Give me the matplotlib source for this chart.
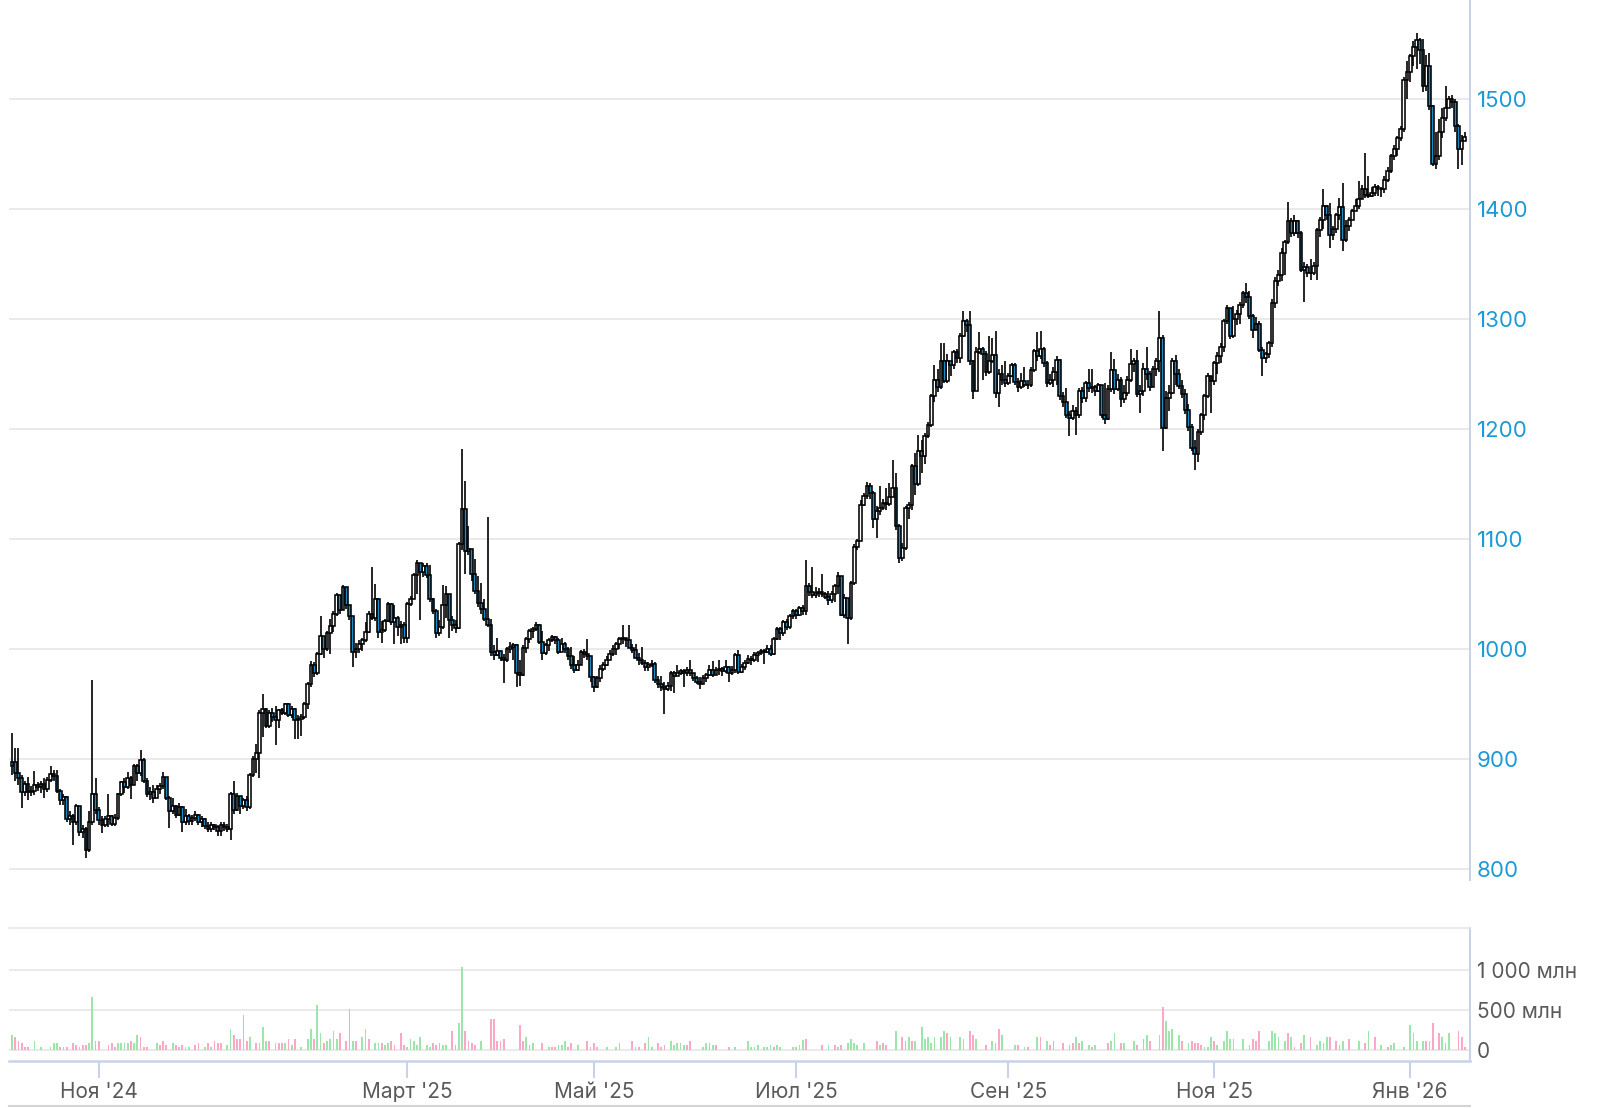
# Daily candles with volume panel
import numpy as np
import matplotlib.pyplot as plt
from matplotlib.lines import Line2D

plt.rcParams['font.family'] = ['Inter', 'DejaVu Sans']

# price data (open of each day = previous close)
first_open = 893
closes = [
    897, 887, 882, 870, 877, 870, 871, 876, 874, 877, 872, 881, 886, 884, 871, 862, 865, 845, 848, 842,
    857, 833, 836, 817, 842, 868, 853, 844, 840, 845, 848, 841, 846, 868, 879, 874, 882, 876, 893, 887,
    899, 880, 868, 870, 864, 872, 875, 883, 864, 852, 857, 849, 856, 842, 848, 843, 846, 849, 842, 845,
    839, 836, 840, 838, 834, 840, 838, 836, 868, 853, 866, 857, 862, 856, 885, 900, 905, 942, 945, 930,
    942, 938, 935, 944, 942, 950, 940, 945, 935,
    936, 938, 950, 968, 985, 978, 995, 1012, 1000, 1014, 1021, 1032, 1049, 1035, 1056, 1040, 1030, 997, 1000, 1004,
    1008, 1015, 1032, 1028, 1045, 1015, 1017, 1025, 1041, 1024, 1028, 1020, 1022, 1010, 1041, 1045, 1067, 1078, 1070, 1075,
    1067, 1045, 1034, 1014, 1020, 1040,
    1050, 1026, 1022, 1019, 1095, 1127, 1089, 1091, 1068, 1053, 1042, 1036, 1027, 1022, 997, 994, 998, 992, 990, 1000,
    1002, 1003, 978, 976, 1001, 1009, 1016, 1018, 1022, 1006, 996, 1003, 1008, 1011, 1008, 997, 1004, 1000, 993, 985,
    981, 985, 997, 995, 993, 974, 965, 973, 982, 985, 990, 995, 1000, 1004, 1009, 1010, 1008, 1001, 999, 992,
    990,
    987, 983, 985, 986, 972, 968, 965, 963, 966, 978, 975, 978, 980, 978, 981, 978, 973, 970, 968, 973,
    976, 981, 976, 981, 982, 980, 983, 978, 981, 994, 979, 983, 987, 991, 990, 994, 996, 998, 997, 1000,
    995, 1009, 1018, 1014, 1024, 1020, 1030, 1034, 1031, 1037, 1034, 1057, 1052, 1049, 1051, 1052, 1050, 1047, 1044, 1050,
    1057, 1066, 1031, 1046, 1028, 1060, 1093, 1098,
    1131, 1139, 1148, 1142, 1118, 1125, 1128, 1133, 1132, 1138, 1146, 1112, 1083, 1092, 1128, 1131, 1166, 1150, 1180, 1175,
    1194, 1204, 1230, 1245, 1238, 1262, 1244, 1262, 1258, 1270, 1265, 1285, 1298, 1295, 1262, 1235, 1270, 1273, 1268, 1252,
    1262, 1267, 1233, 1250, 1245,
    1242, 1248, 1258, 1243, 1238, 1244, 1240, 1240, 1254, 1271, 1266, 1273, 1260, 1242, 1245, 1252, 1263, 1230, 1225, 1213,
    1210, 1216, 1213, 1235, 1228, 1242, 1237, 1238, 1235, 1240, 1213, 1209, 1236, 1254, 1236, 1245, 1227, 1233, 1245, 1259,
    1262, 1232, 1235, 1255, 1250, 1238, 1255, 1262, 1283, 1201, 1228, 1233, 1262, 1250, 1239, 1232, 1217, 1202, 1183, 1177,
    1197, 1213, 1230, 1248,
    1244, 1260, 1266, 1275, 1298, 1310, 1285, 1300, 1305, 1313, 1324, 1320, 1303, 1290, 1296, 1272, 1265, 1268, 1278, 1315,
    1335, 1340, 1360, 1370, 1389, 1378, 1389, 1378, 1345, 1347, 1342, 1342, 1348, 1381, 1390, 1403, 1395, 1377, 1382, 1395,
    1402, 1372, 1385, 1390, 1398, 1403, 1409,
    1418, 1413, 1412, 1415, 1420, 1418, 1418, 1427, 1435, 1448, 1455, 1465, 1473, 1518, 1525, 1539, 1548, 1554, 1545, 1512,
    1530, 1494, 1441, 1448, 1470, 1483, 1492, 1500, 1498, 1476, 1455, 1462, 1466,
]
highs = [
    923, 910, 910, 885, 880, 883, 875, 889, 879, 880, 882, 883, 893, 890, 890, 872, 868, 866, 852, 850,
    859, 857, 840, 838, 852, 972, 882, 856, 848, 848, 868, 849, 850, 869, 880, 882, 888, 884, 895, 895,
    908, 901, 882, 874, 876, 876, 878, 888, 883, 866, 864, 858, 860, 857, 854, 850, 849, 852, 850, 848,
    846, 842, 842, 841, 840, 842, 842, 841, 870, 880, 869, 866, 864, 866, 887, 902, 913, 944, 959, 946,
    944, 946, 948, 945, 946, 951, 951, 948, 946,
    940, 941, 952, 970, 989, 988, 997, 1030, 1012, 1016, 1027, 1034, 1051, 1048, 1058, 1056, 1040, 1030, 1005, 1008,
    1010, 1024, 1034, 1074, 1059, 1046, 1025, 1027, 1043, 1042, 1040, 1030, 1025, 1024, 1043, 1048, 1069, 1081, 1075, 1078,
    1078, 1076, 1046, 1036, 1026, 1058,
    1057, 1048, 1030, 1026, 1097, 1182, 1153, 1112, 1091, 1082, 1066, 1060, 1045, 1120, 1027, 1003, 1010, 997, 995, 1002,
    1006, 1005, 1004, 990, 1003, 1011, 1018, 1020, 1024, 1023, 1016, 1005, 1010, 1013, 1012, 1010, 1010, 1006, 1002, 1002,
    993, 990, 999, 1000, 1009, 993, 975, 975, 985, 988, 993, 999, 1003, 1006, 1011, 1022, 1010, 1022, 1004, 1004,
    996,
    1002, 990, 988, 990, 988, 975, 975, 970, 970, 980, 980, 985, 982, 982, 983, 990, 978, 975, 974, 976,
    978, 985, 989, 983, 990, 983, 990, 984, 984, 996, 999, 986, 990, 994, 993, 997, 998, 1000, 1000, 1003,
    1003, 1011, 1020, 1020, 1026, 1027, 1032, 1036, 1036, 1039, 1040, 1081, 1060, 1074, 1056, 1055, 1068, 1052, 1053, 1053,
    1059, 1070, 1066, 1050, 1046, 1062, 1095, 1100,
    1135, 1142, 1152, 1151, 1144, 1130, 1148, 1136, 1146, 1151, 1172, 1160, 1114, 1096, 1130, 1134, 1168, 1178, 1195, 1190,
    1196, 1206, 1232, 1258, 1255, 1278, 1278, 1268, 1262, 1272, 1273, 1287, 1307, 1300, 1307, 1263, 1275, 1288, 1275, 1271,
    1285, 1283, 1289, 1255, 1258,
    1262, 1251, 1260, 1260, 1246, 1251, 1256, 1245, 1256, 1273, 1288, 1289, 1275, 1262, 1250, 1256, 1266, 1264, 1234, 1237,
    1216, 1222, 1220, 1237, 1238, 1244, 1255, 1255, 1240, 1242, 1240, 1242, 1240, 1270, 1264, 1250, 1247, 1240, 1248, 1273,
    1265, 1272, 1240, 1260, 1275, 1253, 1257, 1265, 1307, 1286, 1235, 1240, 1265, 1267, 1255, 1245, 1236, 1223, 1205, 1190,
    1200, 1215, 1232, 1251,
    1246, 1262, 1270, 1278, 1300, 1313, 1310, 1312, 1308, 1316, 1326, 1333, 1326, 1305, 1302, 1298, 1275, 1270, 1280, 1318,
    1338, 1345, 1365, 1372, 1407, 1392, 1395, 1390, 1380, 1352, 1350, 1355, 1352, 1383, 1393, 1418, 1404, 1406, 1385, 1397,
    1410, 1424, 1390, 1393, 1400, 1409, 1426,
    1422, 1451, 1430, 1420, 1423, 1422, 1420, 1430, 1438, 1450, 1458, 1467, 1476, 1520, 1535, 1541, 1553, 1560, 1556, 1555,
    1540, 1542, 1495, 1470, 1482, 1492, 1512, 1503, 1504, 1500, 1478, 1468, 1470,
]
lows = [
    885, 880, 876, 855, 866, 862, 866, 867, 871, 869, 864, 870, 879, 880, 869, 858, 858, 842, 840, 821,
    840, 830, 828, 810, 815, 840, 850, 840, 832, 838, 838, 839, 839, 844, 866, 869, 872, 863, 876, 880,
    884, 878, 865, 862, 860, 866, 868, 872, 862, 837, 850, 846, 848, 833, 840, 840, 840, 843, 840, 838,
    836, 833, 833, 835, 830, 830, 834, 833, 826, 850, 852, 850, 854, 852, 854, 883, 887, 882, 920, 928,
    928, 933, 912, 928, 940, 940, 938, 937, 918,
    918, 921, 936, 945, 965, 974, 976, 994, 992, 998, 995, 1015, 1030, 1032, 1035, 1036, 1026, 983, 992, 996,
    998, 1006, 1014, 1026, 1025, 1010, 1005, 1015, 1024, 1022, 1004, 1012, 1004, 1005, 1005, 1039, 1045, 1050, 1026, 1065,
    1064, 1043, 1032, 1010, 1012, 1018,
    1028, 1010, 1016, 1014, 1018, 1090, 1068, 1085, 1062, 1050, 1038, 1032, 1025, 1020, 993, 990, 993, 989, 969, 988,
    996, 990, 965, 966, 975, 996, 1005, 1010, 1016, 1004, 990, 994, 998, 1006, 1004, 995, 1000, 996, 990, 982,
    978, 980, 990, 992, 990, 970, 961, 964, 970, 980, 984, 990, 993, 994, 1000, 1004, 1002, 1004, 996, 995,
    985,
    985, 980, 980, 983, 969, 964, 962, 941, 962, 962, 960, 975, 976, 965, 975, 975, 971, 968, 963, 968,
    970, 975, 974, 976, 976, 975, 978, 970, 976, 978, 977, 978, 981, 986, 985, 988, 988, 994, 986, 996,
    993, 994, 1008, 1008, 1012, 1017, 1018, 1027, 1027, 1030, 1031, 1031, 1048, 1046, 1046, 1047, 1047, 1045, 1040, 1042,
    1043, 1050, 1030, 1028, 1004, 1026, 1058, 1090,
    1098, 1130, 1136, 1136, 1110, 1101, 1122, 1126, 1126, 1130, 1138, 1108, 1078, 1080, 1090, 1118, 1126, 1140, 1148, 1160,
    1168, 1192, 1202, 1225, 1234, 1236, 1242, 1242, 1248, 1255, 1260, 1260, 1284, 1288, 1258, 1227, 1235, 1268, 1245, 1248,
    1250, 1260, 1228, 1220, 1240,
    1238, 1240, 1247, 1240, 1234, 1236, 1238, 1236, 1238, 1252, 1262, 1264, 1256, 1238, 1240, 1238, 1240, 1226, 1220, 1210,
    1194, 1208, 1195, 1210, 1224, 1225, 1234, 1233, 1230, 1234, 1210, 1205, 1208, 1234, 1232, 1235, 1220, 1224, 1230, 1243,
    1252, 1229, 1215, 1230, 1245, 1235, 1238, 1248, 1252, 1180, 1200, 1216, 1232, 1240, 1236, 1228, 1214, 1198, 1180, 1163,
    1170, 1195, 1208, 1228,
    1215, 1240, 1250, 1260, 1270, 1296, 1282, 1283, 1295, 1296, 1310, 1315, 1300, 1283, 1291, 1270, 1248, 1260, 1265, 1275,
    1310, 1330, 1335, 1340, 1368, 1375, 1376, 1374, 1343, 1316, 1338, 1336, 1340, 1336, 1375, 1382, 1390, 1365, 1372, 1378,
    1390, 1362, 1370, 1380, 1390, 1398, 1400,
    1410, 1410, 1410, 1411, 1412, 1412, 1411, 1415, 1425, 1433, 1445, 1448, 1462, 1470, 1500, 1516, 1530, 1528, 1532, 1507,
    1508, 1490, 1439, 1437, 1445, 1465, 1480, 1492, 1492, 1470, 1437, 1440, 1462,
]

# volume, millions (day index, value) split by up/down day
up_day = [0, 7, 9, 12, 13, 14, 21, 24, 25,
          33, 34, 35, 36, 38, 39, 45, 50, 54, 55, 60, 62, 67, 68, 74, 77, 78, 79, 82, 85, 87,
          90, 92, 93, 95, 96, 98, 99, 100, 101, 106, 109, 110, 113, 114, 116, 117, 123, 124, 125, 126, 127, 129, 130, 134,
          135, 139, 140, 146, 160, 162, 167, 170, 171, 172, 176, 185, 188, 189,
          198, 199, 205, 206, 207, 208, 209, 215, 216, 218, 225, 229, 230, 231, 232, 234, 235, 236, 238, 239,
          243, 244, 245, 246, 254, 257, 260, 261, 262, 263,
          265, 270, 275, 279, 281, 283, 284, 285, 286, 287, 289, 290, 292, 295, 296, 300, 305, 308,
          312, 315, 319, 322, 331, 333, 335, 337, 342, 343, 346, 349, 353, 357, 359, 360, 361, 363, 366, 371, 372,
          373, 375, 377, 378, 379, 380, 383, 385, 391, 392, 393, 394, 396, 398, 402, 406, 407, 409, 413, 414, 419,
          422, 426, 429, 430, 433, 435, 436, 437, 439, 441, 445, 447]
up_vol = [183, 108, 33, 33, 83, 83, 33, 83, 658,
          83, 83, 83, 83, 83, 183, 83, 83, 33, 33, 33, 33, 58, 258, 158, 83, 283, 108, 83, 83, 58,
          33, 133, 258, 558, 208, 108, 133, 233, 133, 108, 158, 258, 83, 83, 58, 83, 33, 133, 108, 58, 158, 58, 33, 58,
          58, 333, 1034, 108, 158, 83, 33, 58, 58, 108, 58, 33, 33, 83,
          158, 33, 108, 58, 83, 83, 58, 33, 83, 58, 33, 108, 33, 33, 58, 33, 33, 58, 58, 33,
          33, 33, 58, 125, 58, 33, 83, 133, 83, 58,
          83, 58, 233, 158, 108, 283, 133, 158, 83, 158, 158, 233, 158, 158, 133, 133, 108, 183,
          58, 33, 158, 108, 158, 108, 58, 58, 108, 208, 83, 108, 183, 183, 358, 233, 258, 183, 83, 33, 33,
          158, 58, 108, 233, 133, 133, 133, 58, 108, 233, 208, 158, 108, 158, 183, 58, 108, 158, 58, 108, 108,
          233, 58, 58, 83, 33, 308, 208, 108, 108, 108, 158, 208]
dn_day = [1, 2, 3, 4, 5, 15, 16, 17, 19, 20, 22, 23,
          26, 27, 30, 31, 32, 37, 40, 41, 42, 46, 47, 48, 51, 52, 53, 57, 58, 61, 63, 64, 65, 69, 70, 71, 72, 73, 76, 80, 83, 84, 86, 88,
          94, 97, 102, 104, 105, 107, 111, 115, 118, 119, 121, 122, 131, 132, 133,
          137, 138, 141, 142, 143, 144, 149, 150, 151, 152, 153, 158, 159, 161, 165, 168, 169, 173, 174, 179, 180, 181, 182, 193, 194, 195,
          197, 201, 202, 203, 210, 211, 217, 219, 223, 237, 247, 252, 256, 258,
          269, 271, 272, 277, 278, 280, 291, 298, 299, 303, 306, 307,
          313, 316, 320, 323, 324, 327, 329, 330, 332, 336, 341, 345, 350, 352, 354, 358, 364, 367, 368, 369, 370,
          374, 386, 387, 388, 397, 399, 401, 404, 408, 410, 412, 416,
          421, 424, 428, 440, 442, 444, 446, 450, 451, 452]
dn_vol = [158, 108, 83, 33, 33, 33, 33, 33, 83, 58, 58, 58,
          108, 108, 58, 83, 33, 108, 158, 33, 33, 58, 108, 58, 58, 33, 58, 58, 83, 83, 108, 83, 83, 183, 133, 133, 433, 108, 83, 108, 83, 83, 133, 133,
          133, 83, 208, 108, 508, 108, 133, 83, 108, 58, 208, 58, 83, 58, 83,
          233, 58, 233, 108, 83, 58, 383, 383, 108, 108, 133, 308, 108, 58, 83, 33, 33, 33, 83, 108, 33, 83, 33, 108, 33, 33,
          83, 83, 33, 58, 58, 108, 83, 58, 33, 33, 133, 58, 58, 58,
          108, 83, 58, 158, 108, 108, 208, 233, 183, 58, 83, 258,
          58, 33, 158, 58, 108, 83, 58, 83, 83, 33, 83, 83, 58, 133, 108, 533, 108, 108, 83, 83, 58,
          108, 133, 108, 233, 208, 33, 83, 158, 83, 158, 108, 133,
          83, 158, 33, 108, 333, 208, 83, 233, 158, 33]

tick_days = [27, 123, 181, 244, 310, 374, 435]
tick_labels = ["Ноя '24", "Март '25", "Май '25", "Июл '25", "Сен '25", "Ноя '25", "Янв '26"]
price_ticks = [800, 900, 1000, 1100, 1200, 1300, 1400, 1500]
vol_ticks = [0, 500, 1000]
vol_tick_labels = ['0', '500 млн', '1 000 млн']

closes = np.array(closes, dtype=float)
opens = np.concatenate([[first_open], closes[:-1]])
highs = np.maximum(np.array(highs, dtype=float), np.maximum(opens, closes))
lows = np.minimum(np.array(lows, dtype=float), np.minimum(opens, closes))
x = np.arange(len(closes))
up = closes >= opens

W, H = 1604, 1108
fig = plt.figure(figsize=(W / 100, H / 100), dpi=100)

grid_c = '#e4e4e4'
axis_c = '#c9d3e8'
blue = '#1d9ad6'
gray_txt = '#5a5a5a'
xlim = (-0.93, 453.6)

# price panel
ax = fig.add_axes([9 / W, 1 - 880 / H, 1461 / W, 880 / H])
ax.vlines(x, lows, highs, color='black', lw=1.2, zorder=2)
ax.bar(x[up], (closes - opens)[up], bottom=opens[up], width=0.85,
       color='white', edgecolor='black', lw=1.15, zorder=3)
ax.bar(x[~up], (closes - opens)[~up], bottom=opens[~up], width=0.85,
       color='#1a8cc6', edgecolor='black', lw=1.15, zorder=3)
ax.set_xlim(*xlim)
ax.set_ylim(789.6, 1590.4)
ax.set_yticks(price_ticks)
ax.yaxis.tick_right()
ax.tick_params(axis='y', length=0, pad=5, labelsize=16, labelcolor=blue)
ax.set_xticks([])
ax.yaxis.grid(True, color=grid_c, lw=1.1)
ax.set_axisbelow(True)
for s in ['top', 'left', 'bottom']:
    ax.spines[s].set_visible(False)
ax.spines['right'].set_color(axis_c)
ax.spines['right'].set_linewidth(1.5)

# volume panel
ax2 = fig.add_axes([9 / W, 1 - 1061 / H, 1461 / W, 133 / H])
ax2.bar(up_day, up_vol, width=0.55, color='#9de6ab', zorder=3)
ax2.bar(dn_day, dn_vol, width=0.55, color='#fba7c6', zorder=3)
ax2.set_xlim(*xlim)
ax2.set_ylim(-141, 1521)
ax2.set_yticks(vol_ticks)
ax2.set_yticklabels(vol_tick_labels)
ax2.yaxis.tick_right()
ax2.tick_params(axis='y', length=0, pad=5, labelsize=15, labelcolor=gray_txt)
ax2.set_xticks(tick_days)
ax2.set_xticklabels(tick_labels)
ax2.tick_params(axis='x', length=12, width=1.5, color=axis_c, pad=3,
                labelsize=15, labelcolor=gray_txt)
ax2.yaxis.grid(True, color=grid_c, lw=1.1)
ax2.set_axisbelow(True)
ax2.spines['left'].set_visible(False)
ax2.spines['top'].set_color(grid_c)
ax2.spines['top'].set_linewidth(1.1)
ax2.spines['bottom'].set_color(axis_c)
ax2.spines['bottom'].set_linewidth(1.8)
ax2.spines['right'].set_color(axis_c)
ax2.spines['right'].set_linewidth(1.5)

fig.add_artist(Line2D([9 / W, 1470 / W], [1 - 1106 / H, 1 - 1106 / H],
                      color='#d4d4d4', lw=1.5))

fig.savefig('out.png', dpi=100)
